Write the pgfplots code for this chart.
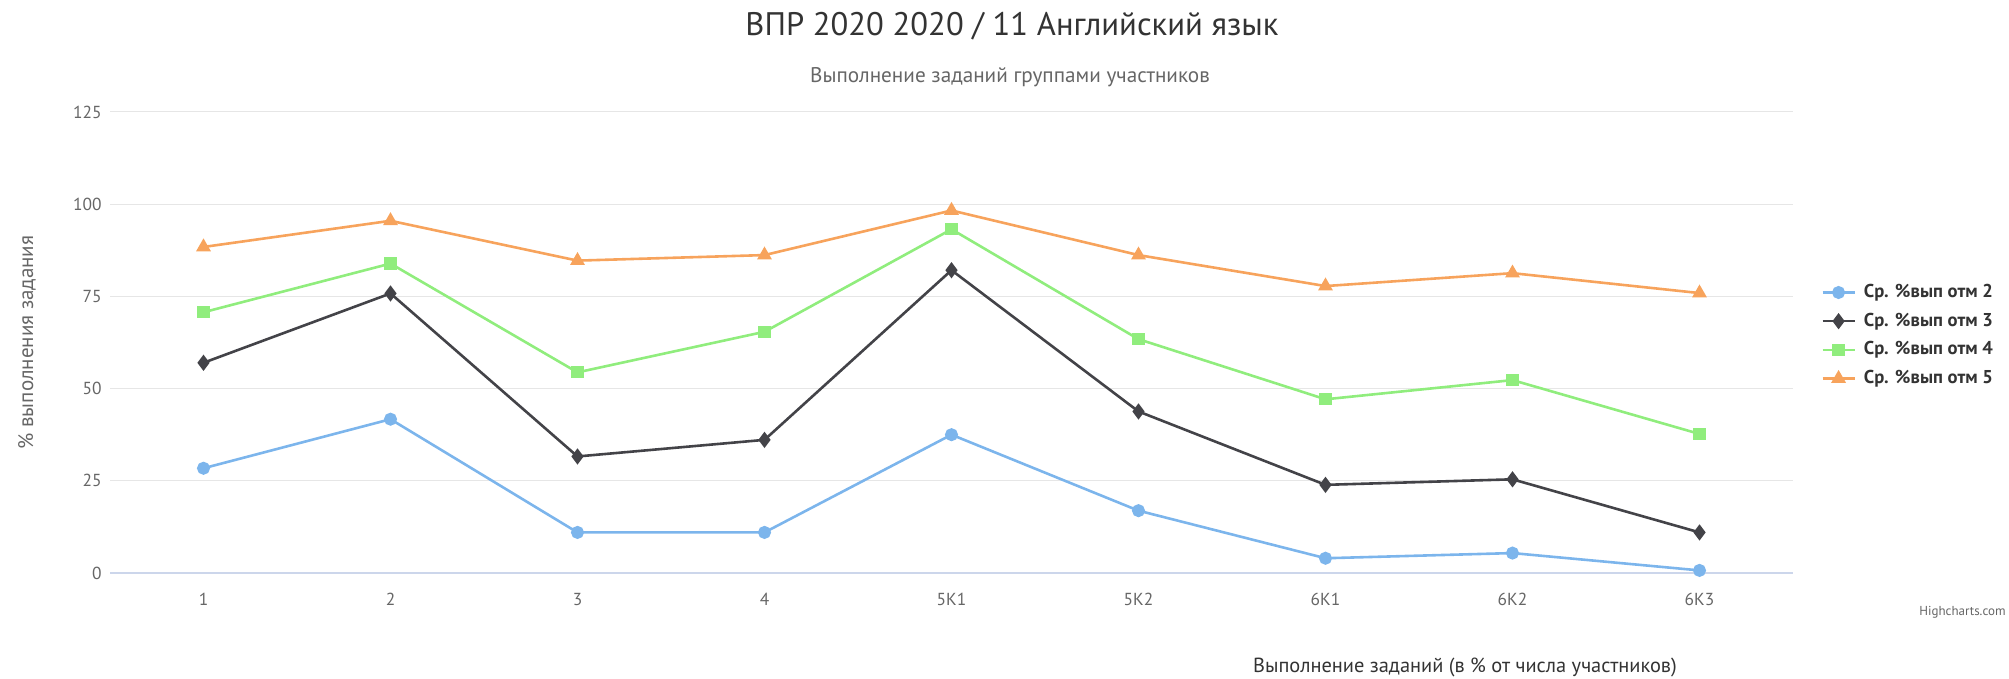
\documentclass[border=0pt]{standalone}
\usepackage{pgfplots}
\pgfplotsset{compat=1.18}
\usepackage{pgfplotstable}
\usepackage{fontspec}
\setmainfont{PT Sans}

\definecolor{hcblue}{HTML}{7CB5EC}
\definecolor{hcblack}{HTML}{434348}
\definecolor{hcgreen}{HTML}{90ED7D}
\definecolor{hcorange}{HTML}{F7A35C}
\definecolor{gridgray}{HTML}{E6E6E6}
\definecolor{axisblue}{HTML}{CCD6EB}
\definecolor{txtdark}{HTML}{333333}
\definecolor{txtgray}{HTML}{666666}

% task, mark 2, mark 3, mark 4, mark 5
\pgfplotstableread{
x  c2   c3   c4   c5
0  28.4 57.0 70.7 88.4
1  41.7 75.8 83.9 95.5
2  11.0 31.6 54.4 84.7
3  11.0 36.1 65.4 86.2
4  37.5 82.1 93.2 98.3
5  16.9 43.8 63.4 86.2
6  4.0  23.9 47.1 77.8
7  5.4  25.4 52.3 81.3
8  0.7  11.0 37.7 75.9
}\results

\begin{document}
\begin{tikzpicture}
\useasboundingbox (0,0) rectangle (1004.5pt,339.5pt);

\node[text=txtdark, font=\fontsize{16.3}{18}\selectfont] at (506pt,326.5pt) {ВПР 2020 2020 / 11 Английский язык};
\node[text=txtgray, font=\fontsize{10.6}{12}\selectfont] at (505pt,301pt) {Выполнение заданий группами участников};

\begin{axis}[
    at={(55pt,53pt)}, anchor=south west,
    scale only axis,
    width=841.5pt, height=230.5pt,
    xmin=-0.5, xmax=8.5,
    ymin=0, ymax=125,
    xtick={0,...,8},
    xticklabels={1,2,3,4,5К1,5К2,6К1,6К2,6К3},
    ytick={0,25,...,125},
    ymajorgrids,
    grid style={draw=gridgray, line width=0.5pt},
    axis lines*=left,
    axis line style={-},
    y axis line style={draw=none},
    x axis line style={draw=axisblue, line width=0.6pt},
    major tick length=0pt,
    /pgf/number format/assume math mode=true,
    ticklabel style={font=\fontsize{8.7}{10}\selectfont, text=txtgray},
    yticklabel style={inner sep=0pt, xshift=-4pt},
    xticklabel style={inner sep=0pt, yshift=-10pt},
    ylabel={\% выполнения задания},
    every axis y label/.style={at={(rel axis cs:0,0.5)}, xshift=-41.5pt, rotate=90, anchor=center,
        font=\fontsize{10.5}{12}\selectfont, text=txtgray},
    legend cell align=left,
    legend style={
        at={(1.013,0.64)}, anchor=north west,
        draw=none, fill=none,
        font=\bfseries\fontsize{9.3}{10}\selectfont, text=txtdark,
        row sep=4.2pt,
        nodes={inner sep=1pt},
        /tikz/every odd column/.append style={column sep=3pt},
    },
    legend image code/.code={
        \draw[mark repeat=2, mark phase=2] plot coordinates {(0pt,0pt) (8pt,0pt) (16pt,0pt)};
    },
    every axis plot/.append style={line width=1.3pt, mark options={solid}},
]
\addplot[color=hcblue, mark=*, mark size=2.6pt] table[x=x, y=c2] {\results};
\addplot[color=hcblack, mark=diamond*, mark size=3pt] table[x=x, y=c3] {\results};
\addplot[color=hcgreen, mark=square*, mark size=2.4pt] table[x=x, y=c4] {\results};
\addplot[color=hcorange, mark=triangle*, mark size=3pt] table[x=x, y=c5] {\results};
\legend{Ср. \%вып отм 2, Ср. \%вып отм 3, Ср. \%вып отм 4, Ср. \%вып отм 5}
\end{axis}

\node[anchor=base, text=txtdark, font=\fontsize{10.2}{12}\selectfont] at (732.5pt,3pt) {Выполнение заданий (в \% от числа участников)};
\node[anchor=east, text=txtgray, font=\fontsize{6.5}{8}\selectfont, inner sep=0pt] at (1003pt,33.5pt) {Highcharts.com};
\end{tikzpicture}
\end{document}
